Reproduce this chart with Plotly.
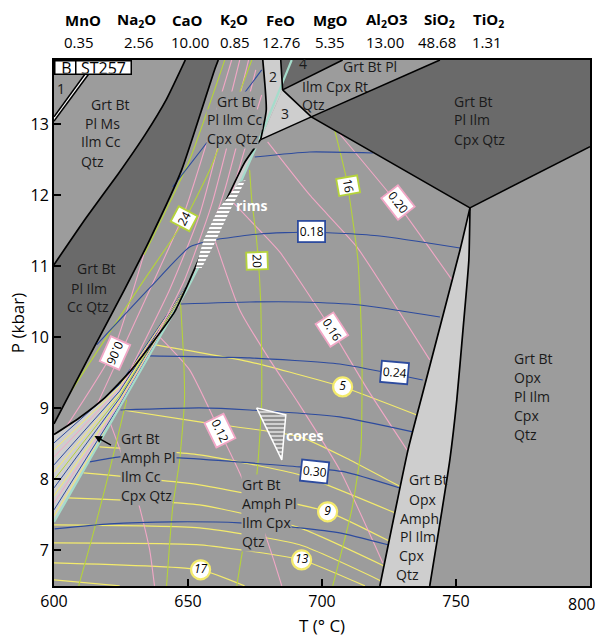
import plotly.graph_objects as go

MED = '#9c9c9c'; DARK = '#6a6a6a'; LIGHT = '#cecece'
PINK = '#f2a7c6'; GREEN = '#b5d33a'; BLUE = '#2d4b9e'; YELLOW = '#f4eb6c'; CYAN = '#a5dccb'
FONT = 'Open Sans'

T_RANGE = [600, 800]
P_RANGE = [6.5, 13.9]
T_TICKS = [600, 650, 700, 750, 800]
T_TICKTEXT = ["600", "650", "700", "750", ""]
P_TICKS = [7, 8, 9, 10, 11, 12, 13]

OXIDES = ["MnO", "Na<sub>2</sub>O", "CaO", "K<sub>2</sub>O", "FeO", "MgO", "Al<sub>2</sub>O3", "SiO<sub>2</sub>", "TiO<sub>2</sub>"]
WT = ["0.35", "2.56", "10.00", "0.85", "12.76", "5.35", "13.00", "48.68", "1.31"]
OX_POS = [0.0550, 0.1530, 0.2495, 0.3367, 0.4231, 0.5155, 0.6198, 0.7198, 0.8106]
WT_POS = [0.0472, 0.1580, 0.2545, 0.3381, 0.4231, 0.5155, 0.6175, 0.7142, 0.8086]

# ---- field boundaries (T degC, P kbar)
SLIVER_A = [(600, 13.10), (615.4, 13.90)]
SLIVER_B = [(600, 13.04), (616.8, 13.90)]
L2 = [(600, 11.02), (612, 11.68), (624, 12.30), (634, 12.85), (642, 13.35), (649, 13.90)]
L3 = [(600, 8.78), (613, 9.72), (626.3, 10.67), (635.7, 11.37), (647.6, 12.35), (659.9, 13.76), (661.3, 13.90)]
L4 = [(600, 8.63), (609.5, 8.867), (618.9, 9.146), (628.2, 9.512), (637.5, 9.962), (645.0, 10.357),
      (650, 10.75), (657, 11.35), (664.3, 11.93), (671, 12.45), (677.1, 12.78)]
F2_LEFT = [(677.1, 12.78), (679.2, 13.197), (677.9, 13.90)]
CYAN_LINE = [(600, 7.40), (649.5, 10.665), (666.8, 11.93), (676.8, 12.80), (687.2, 13.76), (688.7, 13.90)]
F2_TOP = [(684.6, 13.90), (685.3, 13.48)]
F4_EDGE = [(685.3, 13.48), (707.7, 13.90)]
RT_LOW = [(685.3, 13.48), (696, 13.10), (755.2, 11.82)]
F3_BASE = [(696, 13.10), (677.1, 12.78)]
TR_EDGE = [(696, 13.10), (744.0, 13.90)]
TR_LOW = [(755.2, 11.82), (800, 12.68)]
STRIP_L = [(755.2, 11.82), (751.5, 11.228), (736.9, 9.118), (732.1, 8.415), (721.6, 6.50)]
STRIP_R = [(755.2, 11.82), (754.8, 11.087), (752.6, 10.10), (750.3, 9.118), (747.7, 8.274), (740.2, 6.50)]

# ---- isopleths
BLUE_LINES = [
    [(674.9, 12.536), (695.4, 12.606), (719.0, 12.592)],
    [(659.2, 11.368), (676.7, 11.453), (695.8, 11.481), (721.6, 11.425), (751.5, 11.256)],
    [(647.2, 10.468), (673.0, 10.496), (691.7, 10.496), (714.1, 10.454), (744.0, 10.285)],
    [(635.7, 9.737), (673.0, 9.709), (706.6, 9.624), (737.6, 9.399)],
    [(624.8, 8.977), (654.3, 9.006), (673.0, 8.977), (706.6, 8.879), (733.9, 8.668)],
    [(613.3, 8.246), (624.5, 8.316), (646.9, 8.302), (691.7, 8.176), (708.5, 8.105), (729.0, 7.880)],
    [(600.2, 7.304), (620.7, 7.374), (644.3, 7.402), (669.3, 7.388), (691.7, 7.318), (706.6, 7.247), (724.6, 7.079)],
    [(615.9, 9.892), (635.7, 10.693), (650.6, 11.270), (657.7, 11.354)],
    [(644.3, 12.114), (655.5, 12.662), (671.9, 13.478), (677.5, 13.760)],
]
PINK_LINES = [
    [(706.6, 12.859), (727.9, 11.889), (748.5, 10.806)],
    [(679.7, 12.747), (695.4, 12.001), (713.0, 11.270), (727.2, 10.454), (740.2, 9.681)],
    [(666.3, 11.917), (673.0, 11.650), (684.2, 11.200), (703.6, 10.103), (717.1, 9.259), (731.7, 8.415)],
    [(659.6, 11.411), (669.3, 10.384), (680.5, 9.681), (690.9, 9.090), (706.6, 8.134), (722.7, 6.825)],
    [(639.4, 10.004), (650.6, 9.540), (661.8, 8.682), (669.3, 8.091), (677.5, 7.360), (681.6, 6.910), (685.0, 6.502)],
    [(621.1, 8.781), (627.1, 8.162), (631.9, 7.613), (635.7, 7.008), (637.5, 6.502)],
    [(604.3, 8.724), (621.9, 9.793), (633.8, 11.200)],
    [(616.2, 9.062), (635.7, 10.665), (648.7, 11.762), (666.3, 13.90)],
    [(627.5, 9.470), (643.1, 10.665), (654.3, 11.720), (669.3, 13.90)],
    [(637.5, 9.962), (648.7, 10.806), (658.8, 11.861), (672.6, 13.90)],
    [(646.1, 10.412), (654.3, 11.059), (663.7, 12.072), (675.3, 13.760)],
    [(656.2, 11.228), (663.7, 11.720), (671.1, 12.634), (677.5, 13.408)],
]
GREEN_LINES = [
    [(704.8, 12.902), (709.2, 12.212), (713.4, 11.087), (714.9, 9.821), (714.5, 8.415), (711.1, 7.571), (704.0, 6.502)],
    [(673.0, 12.353), (673.8, 11.931), (675.6, 11.368), (677.1, 10.525), (677.5, 9.118), (675.6, 8.035), (670.4, 7.008), (668.2, 6.502)],
    [(647.2, 10.496), (648.4, 9.681), (648.7, 9.118), (646.9, 8.274), (644.3, 7.613), (642.0, 6.502)],
    [(627.1, 9.118), (622.6, 8.415), (618.9, 7.852), (614.0, 7.149), (609.2, 6.502)],
    [(606.2, 9.231), (631.9, 10.708), (648.7, 11.650), (658.1, 12.353), (673.8, 13.90)],
    [(633.6, 11.158), (650.6, 12.494), (663.7, 13.90)],
]
YELLOW_LINES = [
    [(637.9, 9.892), (673.0, 9.653), (707.7, 9.301), (735.4, 8.907)],
    [(625.6, 8.977), (654.3, 8.809), (691.7, 8.598), (710.4, 8.274), (729.4, 7.895)],
    [(617.0, 8.457), (654.3, 8.345), (691.7, 8.063), (727.2, 7.529)],
    [(611.0, 8.091), (654.3, 7.923), (702.1, 7.543), (724.9, 7.135)],
    [(605.0, 7.740), (654.3, 7.641), (691.7, 7.318), (723.1, 6.783)],
    [(600.0, 7.360), (654.3, 7.318), (691.7, 7.079), (722.0, 6.572)],
    [(600.0, 7.107), (654.3, 7.079), (692.4, 6.867), (716.0, 6.502)],
    [(600.0, 6.825), (654.7, 6.727), (671.1, 6.502)],
    [(600.0, 6.586), (624.5, 6.502)],
]
BAND_LINES = [
    (BLUE, [(600, 8.513), (624.5, 9.336), (649.1, 10.70)]),
    (YELLOW, [(600, 8.415), (624.5, 9.307), (649.1, 10.69)]),
    (PINK, [(600, 8.316), (624.5, 9.276), (649.1, 10.68)]),
    (BLUE, [(600, 8.204), (624.5, 9.242), (649.1, 10.68)]),
    (YELLOW, [(600, 8.105), (624.5, 9.211), (649.1, 10.67)]),
    (GREEN, [(600, 7.993), (624.5, 9.176), (649.1, 10.67)]),
    (BLUE, [(600, 7.880), (624.5, 9.142), (649.1, 10.66)]),
    (YELLOW, [(600, 7.768), (624.5, 9.107), (649.1, 10.66)]),
    (PINK, [(600, 7.669), (624.5, 9.076), (649.1, 10.65)]),
    (BLUE, [(600, 7.571), (624.5, 9.046), (649.1, 10.65)]),
    (YELLOW, [(600, 7.487), (624.5, 9.020), (649.1, 10.64)]),
]
RIMS = [(652.85, 10.975), (655.8, 11.368), (661.1, 11.79), (669.3, 12.184),
        (671.5, 12.212), (665.2, 11.748), (659.6, 11.298), (655.1, 10.975)]
CORES = [(675.6, 9.006), (686.5, 8.907), (685.0, 8.274)]

# isopleth labels in boxes: text, T, P, colour, angle
BOX_LABELS = [
    ("0.18", 696.1, 11.481, BLUE, 0), ("0.24", 727.2, 9.498, BLUE, 5), ("0.30", 697.3, 8.105, BLUE, 6),
    ("0.06", 622.6, 9.779, PINK, 114), ("0.12", 661.8, 8.682, PINK, 64), ("0.16", 703.6, 10.103, PINK, 57),
    ("0.20", 728.3, 11.889, PINK, 52),
    ("24", 648.7, 11.664, GREEN, -62), ("20", 675.6, 11.073, GREEN, 88), ("16", 709.6, 12.128, GREEN, 80),
]
# isopleth labels in circles
CIRCLE_TEXT = ["5", "9", "13", "17"]
CIRCLE_T = [707.7, 702.1, 692.4, 654.7]
CIRCLE_P = [9.301, 7.543, 6.867, 6.727]

# field labels: text, T (left edge), P, knockout colour
FIELD_LABELS = [
    ("Grt Bt", 613.5, 13.267, None), ("Pl Ms", 611.1, 13.01, None), ("Ilm Cc", 609.8, 12.751, None), ("Qtz", 609.8, 12.47, None),
    ("Grt Bt", 608.3, 10.97, None), ("Pl Ilm", 606.1, 10.69, None), ("Cc Qtz", 604.6, 10.43, None),
    ("Grt Bt", 660.3, 13.31, MED), ("Pl Ilm Cc", 656.6, 13.07, MED), ("Cpx Qtz", 656.6, 12.80, MED),
    ("Grt Bt Pl", 707.3, 13.806, None), ("Ilm Cpx Rt", 692.3, 13.534, None), ("Qtz", 692.1, 13.267, None),
    ("Grt Bt", 748.9, 13.31, None), ("Pl Ilm", 748.9, 13.056, None), ("Cpx Qtz", 748.9, 12.785, None),
    ("Grt Bt", 771.1, 9.705, None), ("Opx", 771.1, 9.432, None), ("Pl Ilm", 771.1, 9.164, None),
    ("Cpx", 771.1, 8.897, None), ("Qtz", 771.1, 8.626, None),
    ("Grt Bt", 732.1, 7.993, None), ("Opx", 732.0, 7.72, None), ("Amph", 728.7, 7.454, None),
    ("Pl Ilm", 728.7, 7.196, None), ("Cpx", 728.4, 6.928, None), ("Qtz", 727.2, 6.667, None),
    ("Grt Bt", 624.8, 8.579, MED), ("Amph Pl", 624.8, 8.312, MED), ("Ilm Cc", 624.8, 8.039, MED), ("Cpx Qtz", 624.8, 7.768, MED),
    ("Grt Bt", 669.7, 7.932, MED), ("Amph Pl", 669.7, 7.665, MED), ("Ilm Cpx", 669.7, 7.392, MED), ("Qtz", 669.7, 7.125, MED),
]
NUM_LABELS = [("1", 602.7, 13.50), ("2", 681.7, 13.665), ("3", 686.1, 13.15), ("4", 692.9, 13.85)]

fig = go.Figure()


def tx(pts):
    return [p[0] for p in pts]


def ty(pts):
    return [p[1] for p in pts]


def poly(pts, color, pattern=None, outline=None):
    kw = {}
    if pattern:
        kw['fillpattern'] = pattern
    fig.add_trace(go.Scatter(x=tx(pts) + [pts[0][0]], y=ty(pts) + [pts[0][1]], mode='lines', fill='toself',
                             fillcolor=color, line=dict(width=1.5 if outline else 0, color=outline or color),
                             hoverinfo='skip', **kw))


def ln(pts, color, w=1.1, smooth=True):
    fig.add_trace(go.Scatter(x=tx(pts), y=ty(pts), mode='lines',
                             line=dict(color=color, width=w, shape='spline' if smooth else 'linear', smoothing=0.5),
                             hoverinfo='skip'))


# filled fields
poly(L2 + L3[::-1], DARK)
poly([F2_TOP[0], F2_TOP[1], F4_EDGE[1]], DARK)
poly(TR_EDGE + [(800, 13.9), (800, 12.68), (755.2, 11.82)], DARK)
poly(L4 + CYAN_LINE[:4][::-1], LIGHT)
poly([(677.9, 13.9), (684.6, 13.9), (685.3, 13.48), (677.1, 12.78), (679.2, 13.197)], LIGHT)
poly([(685.3, 13.48), (696, 13.10), (677.1, 12.78)], LIGHT)
poly(STRIP_R + STRIP_L[::-1][:-1], LIGHT)
poly([SLIVER_A[0], SLIVER_A[1], SLIVER_B[1], SLIVER_B[0]], 'white')

# isopleths
for col, pts in BAND_LINES:
    ln(pts, col, 1.0, smooth=False)
for pts in YELLOW_LINES:
    ln(pts, YELLOW)
for pts in PINK_LINES:
    ln(pts, PINK)
for pts in GREEN_LINES:
    ln(pts, GREEN)
for pts in BLUE_LINES:
    ln(pts, BLUE)

# boundaries
ln(CYAN_LINE, CYAN, 2.2, smooth=False)
for pts in [SLIVER_A, SLIVER_B, F2_TOP, F4_EDGE, RT_LOW, F3_BASE, TR_EDGE, TR_LOW]:
    ln(pts, 'black', 1.6, smooth=False)
for pts in [L2, L3, L4, F2_LEFT, STRIP_L, STRIP_R]:
    ln(pts, 'black', 1.7, smooth=True)

# hatched rims and cores
poly(RIMS, 'white', pattern=dict(shape='-', fgcolor='black', bgcolor='white', size=4, solidity=0.35))
poly(CORES, '#cfcfcf', pattern=dict(shape='-', fgcolor='black', bgcolor='#cfcfcf', size=4, solidity=0.3), outline='white')

# circle labels (yellow isopleths)
fig.add_trace(go.Scatter(x=CIRCLE_T, y=CIRCLE_P, mode='markers+text', text=['<i>' + t + '</i>' for t in CIRCLE_TEXT],
                         textposition='middle center', textfont=dict(family=FONT, size=12, color='black'),
                         marker=dict(symbol='circle', size=19, color='white', line=dict(color=YELLOW, width=2.2)),
                         hoverinfo='skip'))

ann = []
for text, t, p, col, ang in BOX_LABELS:
    ann.append(dict(x=t, y=p, text=text, showarrow=False, textangle=ang, bgcolor='white', bordercolor=col,
                    borderwidth=1.8, borderpad=1, font=dict(family=FONT, size=12, color='black')))
for text, t, p, bg in FIELD_LABELS:
    ann.append(dict(x=t, y=p, text=text, showarrow=False, xanchor='left', bgcolor=bg or 'rgba(0,0,0,0)',
                    borderpad=0, font=dict(family=FONT, size=14, color='#1a1a1a')))
for text, t, p in NUM_LABELS:
    ann.append(dict(x=t, y=p, text=text, showarrow=False, font=dict(family=FONT, size=14, color='#1a1a1a')))
ann.append(dict(x=673.8, y=11.847, text="<b>rims</b>", showarrow=False, font=dict(family=FONT, size=14, color='white')))
ann.append(dict(x=693.6, y=8.612, text="<b>cores</b>", showarrow=False, font=dict(family=FONT, size=14, color='white')))
ann.append(dict(x=615.1, y=8.612, ax=18, ay=10, text="", showarrow=True, arrowhead=2, arrowsize=1,
                arrowwidth=1.5, arrowcolor='black'))
# last x tick label, pulled inside the page
ann.append(dict(x=0.985, y=-0.034, xref='paper', yref='paper', xanchor='center', yanchor='middle', text='800',
                showarrow=False, font=dict(family=FONT, size=16, color='black')))
# header
for name, pos in zip(OXIDES, OX_POS):
    ann.append(dict(x=pos, y=1.076, xref='paper', yref='paper', xanchor='center', yanchor='middle',
                    text='<b>' + name + '</b>', showarrow=False, font=dict(family=FONT, size=15, color='black')))
for val, pos in zip(WT, WT_POS):
    ann.append(dict(x=pos, y=1.034, xref='paper', yref='paper', xanchor='center', yanchor='middle',
                    text=val, showarrow=False, font=dict(family=FONT, size=15, color='black')))
ann.append(dict(x=0, y=1, xref='paper', yref='paper', xanchor='left', yanchor='top', text='B', showarrow=False,
                bgcolor='white', bordercolor='black', borderwidth=1.5, borderpad=0, width=22, height=12,
                font=dict(family=FONT, size=16, color='black')))
ann.append(dict(x=0.039, y=1, xref='paper', yref='paper', xanchor='left', yanchor='top', text='ST257', showarrow=False,
                bgcolor='white', bordercolor='black', borderwidth=1.5, borderpad=0, width=54, height=12,
                font=dict(family=FONT, size=16, color='black')))

axis_common = dict(showgrid=False, zeroline=False, showline=True, linecolor='black', linewidth=2, mirror=True,
                   ticks='inside', ticklen=7, tickwidth=1.5, tickcolor='black',
                   automargin=False, tickfont=dict(family=FONT, size=16, color='black'))
fig.update_layout(
    width=601, height=637, margin=dict(l=54, r=11, t=60, b=51, autoexpand=False),
    plot_bgcolor=MED, paper_bgcolor='white', showlegend=False, annotations=ann,
    xaxis=dict(range=T_RANGE, tickvals=T_TICKS, ticktext=T_TICKTEXT,
               title=dict(text='T (° C)', standoff=12, font=dict(family=FONT, size=17, color='black')), **axis_common),
    yaxis=dict(range=P_RANGE, tickvals=P_TICKS,
               title=dict(text='P (kbar)', standoff=2, font=dict(family=FONT, size=17, color='black')), **axis_common),
)
fig.write_html("out.html")
